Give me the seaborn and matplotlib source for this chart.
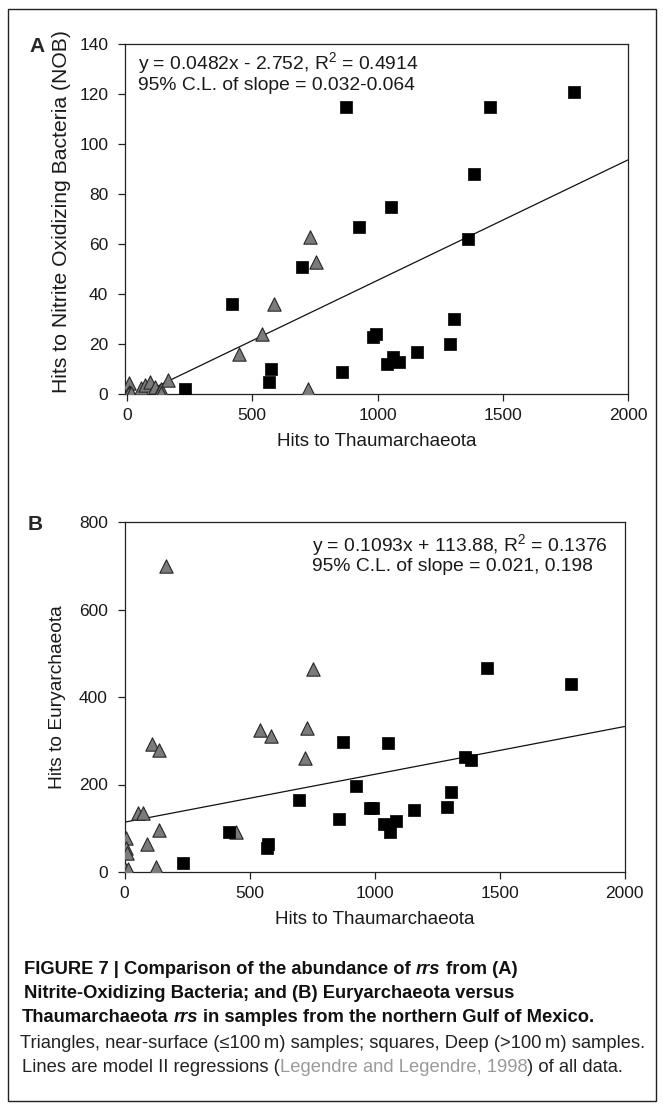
import matplotlib
matplotlib.use("Agg")
import matplotlib.pyplot as plt
import seaborn as sns
import numpy as np
import pandas as pd
from matplotlib.patches import Rectangle

# ---------------- data ----------------
thaum_surface = [6, 6, 10, 3, 14, 54, 72, 90, 110, 126, 137, 136, 165, 447, 540, 585, 723, 729, 753]
nob_surface = [4.5, 1, 0.3, 0, 0.5, 2.5, 3.5, 4.9, 3, 1, 2, 0.5, 5.6, 16, 24, 36, 2, 63, 53]
eury_surface = [78, 56, 44, 8, 6, 135, 134, 65, 293, 12, 280, 97, 700, 92, 324, 310, 261, 330, 463]

thaum_deep = [232, 419, 568, 575, 699, 859, 875, 925, 981, 995, 1037, 1052, 1061, 1085,
              1157, 1288, 1304, 1361, 1385, 1448, 1784]
nob_deep = [2, 36, 5, 10, 51, 9, 115, 67, 23, 24, 12, 75, 15, 13, 17, 20, 30, 62, 88, 115, 121]
eury_deep = [21, 91, 54, 65, 164, 122, 297, 197, 147, 146, 110, 295, 91, 116, 142, 149, 183,
             263, 257, 466, 430]

slope_a, intercept_a, r2_a = 0.0482, -2.752, 0.4914
slope_b, intercept_b, r2_b = 0.1093, 113.88, 0.1376
line_x_a = [57, 2000]
line_x_b = [0, 2000]

x_ticks = [0, 500, 1000, 1500, 2000]
y_ticks_a = [0, 20, 40, 60, 80, 100, 120, 140]
y_ticks_b = [0, 200, 400, 600, 800]

# ---------------- style ----------------
sns.set_theme(style="white")
plt.rcParams['font.family'] = ['Liberation Sans', 'DejaVu Sans']
plt.rcParams['mathtext.fontset'] = 'custom'
plt.rcParams['mathtext.rm'] = 'Liberation Sans'
plt.rcParams['mathtext.it'] = 'Liberation Sans:italic'

W, H = 663, 1116
fig = plt.figure(figsize=(W / 100, H / 100), dpi=100)
fig.patch.set_facecolor("white")

def px_axes(l, t, r, b):
    return fig.add_axes([l / W, 1 - b / H, (r - l) / W, (b - t) / H])

ax_a = px_axes(125, 44, 628, 394)
ax_b = px_axes(124.6, 522, 624.5, 872)

tri_face = "#7b7b7b"
tri_edge = "#262626"

def draw_panel(ax, xs_s, ys_s, xs_d, ys_d, lx, slope, inter, xlim, ylim, yticks,
               ylabel, ylabel_size, ylabel_xy):
    lx = np.array(lx, dtype=float)
    sns.lineplot(x=lx, y=inter + slope * lx, ax=ax, color="#111111", lw=0.9, zorder=1)
    sns.scatterplot(x=xs_s, y=ys_s, ax=ax, marker="^", s=92, color=tri_face,
                    edgecolor=tri_edge, linewidth=0.8, zorder=3)
    sns.scatterplot(x=xs_d, y=ys_d, ax=ax, marker="s", s=72, color="black",
                    edgecolor="black", linewidth=0.5, zorder=4)
    ax.set_xlim(*xlim)
    ax.set_ylim(*ylim)
    ax.set_xticks(x_ticks)
    ax.set_yticks(yticks)
    ax.tick_params(axis="both", which="major", direction="out", length=5, width=0.9,
                   color="#222222", labelsize=12.5, labelcolor="#1a1a1a", pad=5,
                   bottom=True, left=True, top=False, right=False)
    ax.tick_params(axis="y", pad=7)
    for sp in ax.spines.values():
        sp.set_visible(True)
        sp.set_color("#222222")
        sp.set_linewidth(0.9)
    ax.set_xlabel("Hits to Thaumarchaeota", fontsize=13.5, color="#1a1a1a", labelpad=7)
    ax.set_ylabel(ylabel, fontsize=ylabel_size, color="#1a1a1a")
    ax.yaxis.set_label_coords(*ylabel_xy)
    ax.set_facecolor("white")
    ax.grid(False)

draw_panel(ax_a, thaum_surface, nob_surface, thaum_deep, nob_deep, line_x_a,
           slope_a, intercept_a, (-8, 2000), (0, 140), y_ticks_a,
           "Hits to Nitrite Oxidizing Bacteria (NOB)", 15.2, (-0.107, 0.52))
draw_panel(ax_b, thaum_surface, eury_surface, thaum_deep, eury_deep, line_x_b,
           slope_b, intercept_b, (0, 2000), (0, 800), y_ticks_b,
           "Hits to Euryarchaeota", 13.8, (-0.118, 0.5))

eq_kw = dict(fontsize=13.9, color="#1a1a1a", va="center", ha="left")
ax_a.text(0.025, 0.945, "y = 0.0482x - 2.752, R$^{2}$ = 0.4914", transform=ax_a.transAxes, **eq_kw)
ax_a.text(0.025, 0.882, "95% C.L. of slope = 0.032-0.064", transform=ax_a.transAxes, **eq_kw)
ax_b.text(0.375, 0.934, "y = 0.1093x + 113.88, R$^{2}$ = 0.1376", transform=ax_b.transAxes, **eq_kw)
ax_b.text(0.375, 0.872, "95% C.L. of slope = 0.021, 0.198", transform=ax_b.transAxes, **eq_kw)

# panel letters
fig.text(37 / W, 1 - 46 / H, "A", fontsize=15, fontweight="bold", ha="center", va="center")
fig.text(35 / W, 1 - 524 / H, "B", fontsize=15, fontweight="bold", ha="center", va="center")

# outer frame
fig.patches.append(Rectangle((8 / W, 1 - 1101 / H), (656 - 8) / W, (1101 - 9) / H,
                             transform=fig.transFigure, fill=False, edgecolor="#222222",
                             linewidth=1.0))

# ---------------- caption ----------------
cap_family = ['Liberation Sans Narrow', 'Liberation Sans', 'DejaVu Sans']
renderer = fig.canvas.get_renderer()

def text_width(s, **kw):
    t = fig.text(0, 0, s, **kw)
    w = t.get_window_extent(renderer).width
    t.remove()
    return w

def chain(x_px, y_px, segments):
    x = x_px
    for s, kw in segments:
        if s == " ":
            x += text_width("a a", **kw) - text_width("aa", **kw)
            continue
        t = fig.text(x / W, 1 - y_px / H, s, ha="left", va="center", **kw)
        x = t.get_window_extent(renderer).x1

bold = dict(family=cap_family, fontsize=13.2, fontweight="bold", color="#111111")
bold_it = dict(family=cap_family, fontsize=13.2, fontweight="bold", style="italic", color="#111111")
reg = dict(family=cap_family, fontsize=13.2, color="#222222")
gray = dict(family=cap_family, fontsize=13.2, color="#9a9a9a")

x0 = 24
chain(x0, 970, [("FIGURE 7 | Comparison of the abundance of", bold), (" ", bold),
                ("rrs", bold_it), (" ", bold), ("from (A)", bold)])
chain(x0, 994, [("Nitrite-Oxidizing Bacteria; and (B) Euryarchaeota versus", bold)])
chain(x0 - 2, 1018, [("Thaumarchaeota", bold), (" ", bold), ("rrs", bold_it), (" ", bold),
                     ("in samples from the northern Gulf of Mexico.", bold)])
chain(x0 - 4, 1043, [("Triangles, near-surface (\u2264100\u2009m) samples; squares, Deep (>100\u2009m) samples.", reg)])
chain(x0 - 2, 1067, [("Lines are model II regressions (", reg), ("Legendre and Legendre, 1998", gray),
                     (") of all data.", reg)])

fig.savefig("out.png", dpi=100, facecolor="white")
